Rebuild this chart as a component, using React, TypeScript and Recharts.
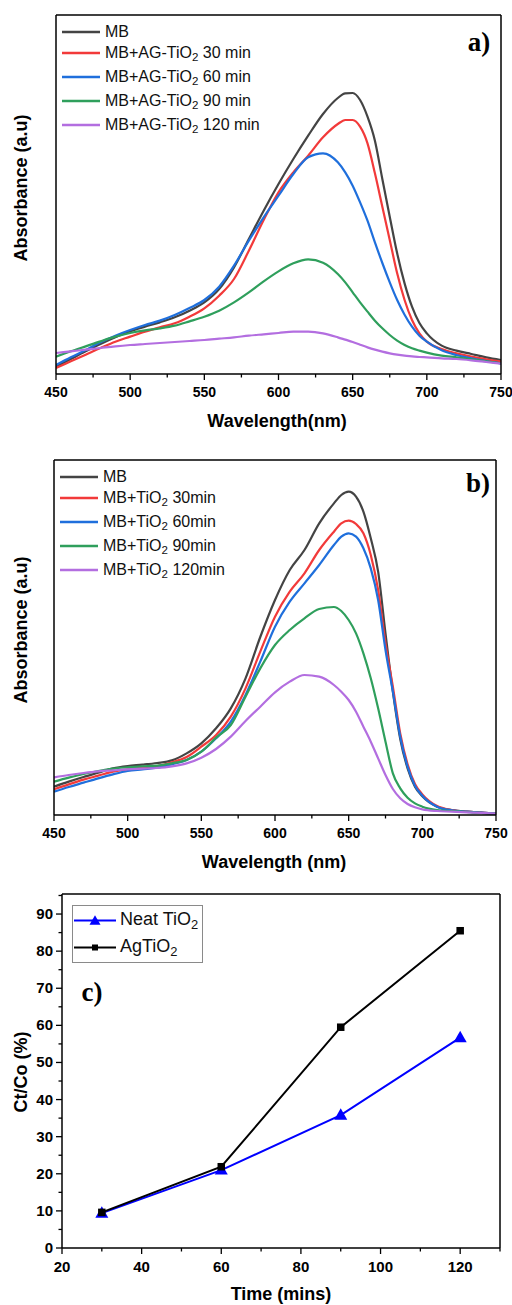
import { Legend, Line, LineChart, XAxis, YAxis } from "recharts";

const SANS = '"Liberation Sans", Arial, sans-serif';
const SERIF = '"Liberation Serif", "Times New Roman", serif';

// wavelength grid shared by both spectra panels (nm)
const WAVELENGTH = [
  450, 460, 470, 480, 490, 500, 510, 520, 530, 540, 550, 560, 570, 580, 590, 600, 610, 620, 630, 640,
  645, 650, 655, 660, 665, 670, 675, 680, 685, 690, 695, 700, 710, 720, 730, 740, 750,
];

// panel a) MB + AG-TiO2
const A_MB = [
  0.022, 0.045, 0.068, 0.09, 0.11, 0.128, 0.142, 0.155, 0.17, 0.19, 0.215, 0.255, 0.32, 0.405, 0.49, 0.57, 0.645, 0.715, 0.78, 0.828,
  0.842, 0.843, 0.822, 0.772, 0.7, 0.585, 0.472, 0.362, 0.272, 0.202, 0.153, 0.122, 0.085, 0.07, 0.06, 0.05, 0.042,
];
const A_30 = [
  0.018, 0.038, 0.058, 0.078, 0.097, 0.112, 0.127, 0.14, 0.152, 0.172, 0.197, 0.235, 0.285, 0.37, 0.462, 0.545, 0.605, 0.655, 0.71, 0.75,
  0.762, 0.762, 0.742, 0.692, 0.602, 0.502, 0.402, 0.302, 0.222, 0.162, 0.122, 0.097, 0.075, 0.062, 0.052, 0.044, 0.037,
];
const A_60 = [
  0.027, 0.05, 0.072, 0.095, 0.115, 0.132, 0.147, 0.16, 0.177, 0.198, 0.222, 0.262, 0.325, 0.4, 0.47, 0.535, 0.6, 0.65, 0.662, 0.635,
  0.605, 0.565, 0.515, 0.46, 0.395, 0.333, 0.275, 0.222, 0.178, 0.142, 0.115, 0.097, 0.071, 0.057, 0.047, 0.039, 0.032,
];
const A_90 = [
  0.052, 0.068, 0.083, 0.098, 0.112, 0.123, 0.131, 0.137, 0.145, 0.158, 0.172, 0.19, 0.215, 0.245, 0.278, 0.308, 0.332, 0.344, 0.334, 0.3,
  0.275, 0.245, 0.215, 0.187, 0.16, 0.137, 0.117, 0.1, 0.087, 0.077, 0.07, 0.064, 0.055, 0.05, 0.044, 0.038, 0.032,
];
const A_120 = [
  0.063, 0.068, 0.073, 0.078, 0.083, 0.087, 0.09, 0.093, 0.096, 0.099, 0.102, 0.106, 0.11, 0.115, 0.119, 0.123, 0.127, 0.127, 0.122, 0.11,
  0.103, 0.096, 0.088, 0.08, 0.073, 0.067, 0.062, 0.058, 0.055, 0.053, 0.051, 0.05, 0.047, 0.045, 0.041, 0.036, 0.031,
];

// panel b) MB + TiO2
const B_MB = [
  0.085, 0.1, 0.114, 0.127, 0.14, 0.147, 0.151, 0.156, 0.164, 0.185, 0.215, 0.26, 0.32, 0.41, 0.534, 0.645, 0.735, 0.795, 0.875, 0.935,
  0.96, 0.97, 0.955, 0.91, 0.83, 0.73, 0.545, 0.37, 0.228, 0.14, 0.085, 0.056, 0.025, 0.015, 0.01, 0.007, 0.004,
];
const B_30 = [
  0.077, 0.092, 0.106, 0.118, 0.13, 0.137, 0.142, 0.147, 0.158, 0.174, 0.205, 0.24, 0.295, 0.38, 0.49, 0.595, 0.67, 0.725, 0.795, 0.85,
  0.875, 0.883, 0.873, 0.845, 0.78, 0.675, 0.515, 0.385, 0.245, 0.152, 0.093, 0.062, 0.027, 0.015, 0.01, 0.007, 0.004,
];
const B_60 = [
  0.07, 0.084, 0.097, 0.11, 0.122, 0.132, 0.137, 0.142, 0.152, 0.165, 0.19, 0.23, 0.28, 0.36, 0.46, 0.565, 0.64, 0.695, 0.75, 0.81,
  0.835, 0.845, 0.835, 0.8, 0.74, 0.645, 0.495, 0.37, 0.235, 0.145, 0.088, 0.058, 0.025, 0.014, 0.01, 0.007, 0.004,
];
const B_90 = [
  0.1, 0.112, 0.123, 0.132, 0.139, 0.143, 0.146, 0.148, 0.155, 0.165, 0.19, 0.232, 0.27, 0.355, 0.44, 0.51, 0.555, 0.59, 0.618, 0.624,
  0.612, 0.585, 0.545, 0.485, 0.41, 0.32, 0.22, 0.125, 0.08, 0.052, 0.035, 0.025, 0.015, 0.012, 0.009, 0.006, 0.004,
];
const B_120 = [
  0.113, 0.12, 0.126, 0.131, 0.134, 0.137, 0.139, 0.141, 0.146, 0.155, 0.172, 0.198, 0.235, 0.282, 0.325, 0.368, 0.4, 0.42, 0.415, 0.39,
  0.37, 0.345, 0.31, 0.265, 0.22, 0.17, 0.12, 0.078, 0.05, 0.033, 0.023, 0.017, 0.012, 0.01, 0.008, 0.006, 0.004,
];

const A_NAMES = ["MB", "MB+AG-TiO2 30 min", "MB+AG-TiO2 60 min", "MB+AG-TiO2 90 min", "MB+AG-TiO2 120 min"];
const B_NAMES = ["MB", "MB+TiO2 30min", "MB+TiO2 60min", "MB+TiO2 90min", "MB+TiO2 120min"];
const SPEC_COLORS = ["#444444", "#f23a3a", "#1f6fdc", "#2f9f5c", "#b36ee0"];
const WL_TICKS = [450, 475, 500, 525, 550, 575, 600, 625, 650, 675, 700, 725, 750];

// panel c) degradation
const TIME = [30, 60, 90, 120];
const NEAT_TIO2 = [9.4, 21.0, 35.8, 56.7];
const AG_TIO2 = [9.6, 21.9, 59.5, 85.5];
const C_NAMES = ["Neat TiO2", "AgTiO2"];
const TIME_TICKS = [20, 30, 40, 50, 60, 70, 80, 90, 100, 110, 120, 130];
const PCT_TICKS = [0, 5, 10, 15, 20, 25, 30, 35, 40, 45, 50, 55, 60, 65, 70, 75, 80, 85, 90, 95];

const specA = WAVELENGTH.map((wl, i) => ({ wl, s0: A_MB[i], s1: A_30[i], s2: A_60[i], s3: A_90[i], s4: A_120[i] }));
const specB = WAVELENGTH.map((wl, i) => ({ wl, s0: B_MB[i], s1: B_30[i], s2: B_60[i], s3: B_90[i], s4: B_120[i] }));
const degr = TIME.map((t, i) => ({ t, neat: NEAT_TIO2[i], ag: AG_TIO2[i] }));

const FRAME = { stroke: "#000", strokeWidth: 1.5 };

function withSub(text: string) {
  const parts = String(text).split("TiO2");
  return parts.map((p, i) => (
    <span key={i}>
      {p}
      {i < parts.length - 1 && (
        <>
          TiO<sub style={{ fontSize: "0.72em", verticalAlign: "-0.28em", lineHeight: 0 }}>2</sub>
        </>
      )}
    </span>
  ));
}

function byNames(payload: any[], names: string[]) {
  return [...(payload ?? [])].sort((a, b) => names.indexOf(a.value) - names.indexOf(b.value));
}

function BottomTick(props: any) {
  const { x, y, payload, step, fontSize, dy } = props;
  const major = payload.value % step === 0;
  return (
    <g>
      <line x1={x} x2={x} y1={y} y2={y + (major ? 6 : 3.5)} stroke="#000" strokeWidth={1.3} />
      {major && (
        <text x={x} y={y + dy} textAnchor="middle" fontFamily={SANS} fontWeight="bold" fontSize={fontSize} fill="#000">
          {payload.value}
        </text>
      )}
    </g>
  );
}

function LeftTick(props: any) {
  const { x, y, payload } = props;
  const major = payload.value % 10 === 0;
  return (
    <g>
      <line x1={x - (major ? 6 : 3.5)} x2={x} y1={y} y2={y} stroke="#000" strokeWidth={1.3} />
      {major && (
        <text x={x - 9} y={y + 5} textAnchor="end" fontFamily={SANS} fontWeight="bold" fontSize={15} fill="#000">
          {payload.value}
        </text>
      )}
    </g>
  );
}

function SpectrumLegend({ payload, names }: any) {
  return (
    <div style={{ fontFamily: SANS, fontSize: 16, color: "#111" }}>
      {byNames(payload, names).map((entry: any, i: number) => (
        <div key={i} style={{ display: "flex", height: i === 0 ? 21 : 24, whiteSpace: "nowrap" }}>
          <svg width={43} height={22} style={{ display: "block", flex: "none" }}>
            <line x1={0} x2={38} y1={11} y2={11} stroke={entry.color} strokeWidth={2.4} />
          </svg>
          <span style={{ lineHeight: "22px" }}>{withSub(entry.value)}</span>
        </div>
      ))}
    </div>
  );
}

function Triangle({ cx, cy, color, size = 13 }: any) {
  const h = size * 0.87;
  return (
    <path
      d={`M${cx},${cy - h * 0.6} L${cx + size / 2},${cy + h * 0.4} L${cx - size / 2},${cy + h * 0.4} Z`}
      fill={color}
    />
  );
}

function Square({ cx, cy, color, size = 7.5 }: any) {
  return <rect x={cx - size / 2} y={cy - size / 2} width={size} height={size} fill={color} />;
}

function DegrLegend({ payload }: any) {
  return (
    <div
      style={{
        fontFamily: SANS,
        fontSize: 18,
        color: "#111",
        border: "1px solid #8a8a8a",
        padding: "1px 0",
        width: 131,
        boxSizing: "border-box",
        background: "#fff",
      }}
    >
      {byNames(payload, C_NAMES).map((entry: any, i: number) => (
        <div key={i} style={{ display: "flex", height: 27, whiteSpace: "nowrap" }}>
          <svg width={47} height={27} style={{ display: "block", flex: "none" }}>
            <line x1={1} x2={43} y1={13.5} y2={13.5} stroke={entry.color} strokeWidth={2} />
            {entry.value.startsWith("Neat") ? (
              <Triangle cx={22} cy={14} color={entry.color} size={11} />
            ) : (
              <Square cx={22} cy={13.5} color={entry.color} size={6} />
            )}
          </svg>
          <span style={{ lineHeight: "25px" }}>{withSub(entry.value)}</span>
        </div>
      ))}
    </div>
  );
}

function Title({ x, y, text, rotate = false, size = 18 }: any) {
  return (
    <div
      style={{
        position: "absolute",
        left: x,
        top: y,
        transform: `translate(-50%, -50%)${rotate ? " rotate(-90deg)" : ""}`,
        fontFamily: SANS,
        fontWeight: "bold",
        fontSize: size,
        lineHeight: 1,
        whiteSpace: "nowrap",
        color: "#000",
      }}
    >
      {text}
    </div>
  );
}

function Letter({ x, y, text }: any) {
  return (
    <div
      style={{
        position: "absolute",
        left: x,
        top: y,
        transform: "translate(-50%, -50%)",
        fontFamily: SERIF,
        fontWeight: "bold",
        fontSize: 27,
        lineHeight: 1,
        color: "#000",
      }}
    >
      {text}
    </div>
  );
}

// plot box is given in chart pixels; axes take 30 (bottom), 40 (left), 1 (top/right)
function SpectrumPanel({ data, names, yMax, height, plot, legendPos }: any) {
  const margin = {
    top: plot.top - 1,
    right: 512 - plot.right - 1,
    bottom: height - plot.bottom - 30,
    left: plot.left - 40,
  };
  return (
    <LineChart width={512} height={height} data={data} margin={margin}>
      <XAxis
        xAxisId="b"
        dataKey="wl"
        type="number"
        domain={[450, 750]}
        allowDataOverflow
        ticks={WL_TICKS}
        interval={0}
        height={30}
        tickSize={0}
        tickMargin={0}
        tickLine={false}
        axisLine={FRAME}
        tick={(p: any) => <BottomTick {...p} step={50} fontSize={14} dy={22.5} />}
      />
      <XAxis xAxisId="t" orientation="top" type="number" domain={[450, 750]} height={1} tick={false} tickLine={false} axisLine={FRAME} />
      <YAxis yAxisId="l" type="number" domain={[0, yMax]} allowDataOverflow width={40} tick={false} tickLine={false} axisLine={FRAME} />
      <YAxis yAxisId="r" orientation="right" type="number" domain={[0, yMax]} width={1} tick={false} tickLine={false} axisLine={FRAME} />
      {names.map((name: string, i: number) => (
        <Line
          key={name}
          xAxisId="b"
          yAxisId="l"
          type="monotone"
          dataKey={`s${i}`}
          name={name}
          stroke={SPEC_COLORS[i]}
          strokeWidth={2.2}
          dot={false}
          isAnimationActive={false}
        />
      ))}
      <Legend
        layout="vertical"
        align="center"
        verticalAlign="middle"
        content={<SpectrumLegend names={names} />}
        wrapperStyle={{ left: legendPos.left, top: legendPos.top, width: 300 }}
      />
    </LineChart>
  );
}

export default function App() {
  return (
    <div style={{ position: "absolute", left: 0, top: 0, width: 512, height: 1305, background: "#fff" }}>
      <div style={{ position: "absolute", left: 0, top: 0 }}>
        <SpectrumPanel
          data={specA}
          names={A_NAMES}
          yMax={1.077}
          height={440}
          plot={{ left: 56, right: 501, top: 15, bottom: 374 }}
          legendPos={{ left: 62, top: 21 }}
        />
      </div>
      <Title x={277} y={421} text="Wavelength(nm)" />
      <Title x={21} y={188} text="Absorbance (a.u)" rotate />
      <Letter x={479} y={42} text="a)" />

      <div style={{ position: "absolute", left: 0, top: 440 }}>
        <SpectrumPanel
          data={specB}
          names={B_NAMES}
          yMax={1.065}
          height={440}
          plot={{ left: 54, right: 496, top: 20, bottom: 375 }}
          legendPos={{ left: 60, top: 26 }}
        />
      </div>
      <Title x={274} y={862} text="Wavelength (nm)" />
      <Title x={21} y={630} text="Absorbance (a.u)" rotate />
      <Letter x={478} y={483} text="b)" />

      <div style={{ position: "absolute", left: 0, top: 860 }}>
        <LineChart width={512} height={445} data={degr} margin={{ top: 33, right: 11, bottom: 27, left: 22 }}>
          <XAxis
            xAxisId="b"
            dataKey="t"
            type="number"
            domain={[20, 130]}
            allowDataOverflow
            ticks={TIME_TICKS}
            interval={0}
            height={30}
            tickSize={0}
            tickMargin={0}
            tickLine={false}
            axisLine={FRAME}
            tick={(p: any) => <BottomTick {...p} step={20} fontSize={15} dy={24} />}
          />
          <XAxis xAxisId="t" orientation="top" type="number" domain={[20, 130]} height={1} tick={false} tickLine={false} axisLine={FRAME} />
          <YAxis
            yAxisId="l"
            type="number"
            domain={[0, 95.4]}
            allowDataOverflow
            ticks={PCT_TICKS}
            interval={0}
            width={40}
            tickSize={0}
            tickMargin={0}
            tickLine={false}
            axisLine={FRAME}
            tick={(p: any) => <LeftTick {...p} />}
          />
          <YAxis yAxisId="r" orientation="right" type="number" domain={[0, 95.4]} width={1} tick={false} tickLine={false} axisLine={FRAME} />
          <Line
            xAxisId="b"
            yAxisId="l"
            type="linear"
            dataKey="neat"
            name={C_NAMES[0]}
            stroke="#0000ff"
            strokeWidth={2}
            isAnimationActive={false}
            dot={(p: any) => <Triangle key={`n${p.index}`} cx={p.cx} cy={p.cy} color="#0000ff" />}
          />
          <Line
            xAxisId="b"
            yAxisId="l"
            type="linear"
            dataKey="ag"
            name={C_NAMES[1]}
            stroke="#000000"
            strokeWidth={2}
            isAnimationActive={false}
            dot={(p: any) => <Square key={`a${p.index}`} cx={p.cx} cy={p.cy} color="#000000" />}
          />
          <Legend
            layout="vertical"
            align="center"
            verticalAlign="middle"
            content={<DegrLegend />}
            wrapperStyle={{ left: 72, top: 45, width: 131 }}
          />
        </LineChart>
      </div>
      <Title x={281} y={1294} text="Time (mins)" />
      <Title x={21} y={1072} text="Ct/Co (%)" rotate />
      <Letter x={92} y={992} text="c)" />
    </div>
  );
}
